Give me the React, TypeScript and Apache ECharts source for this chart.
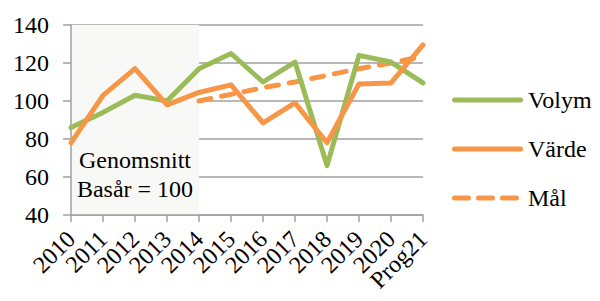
import React, { useEffect, useRef } from "react";
import * as echarts from "echarts";

const categories = ["2010", "2011", "2012", "2013", "2014", "2015", "2016", "2017", "2018", "2019", "2020", "Prog21"];
const volym = [86, 94, 103, 100, 117, 125, 110, 120.5, 66, 124, 120.5, 109.5];
const varde = [78, 103, 117, 98, 104.5, 108.5, 88.5, 99, 78, 109, 109.5, 129.5];
const mal = [null, null, null, null, 100, 103.5, 107, 110, 113.5, 117, 120, 123.5];
const yTicks = { min: 40, max: 140, interval: 20 };
const shadeFrom = "2010";
const shadeTo = "2014";
const shadeLabel = ["Genomsnitt", "Basår = 100"];

const FONT = "Liberation Serif";
const GREEN = "#9bbb59";
const ORANGE = "#f79646";
const GRID = "#a0a0a0";

const solidIcon = "path://M2.5,0H68.5A2.5,2.5 0 0 1 68.5,5H2.5A2.5,2.5 0 0 1 2.5,0Z";
const dashIcon =
  "path://M2.5,0H16.5A2.5,2.5 0 0 1 16.5,5H2.5A2.5,2.5 0 0 1 2.5,0Z" +
  "M26.5,0H40.5A2.5,2.5 0 0 1 40.5,5H26.5A2.5,2.5 0 0 1 26.5,0Z" +
  "M50.5,0H64.5A2.5,2.5 0 0 1 64.5,5H50.5A2.5,2.5 0 0 1 50.5,0Z" +
  "M71,0L71,0.01Z";

const txt = { fontFamily: FONT, fontSize: 24, color: "#000" };

export default function App() {
  const ref = useRef<HTMLDivElement>(null);
  useEffect(() => {
    if (!ref.current) return;
    const chart = echarts.init(ref.current, undefined, { renderer: "svg" });
    chart.setOption({
      animation: false,
      textStyle: { fontFamily: FONT },
      grid: { left: 71, right: 177, top: 25, bottom: 86, containLabel: false },
      legend: {
        orient: "vertical",
        left: 447,
        top: 83,
        itemWidth: 71,
        itemHeight: 5,
        itemGap: 25,
        textStyle: { ...txt, lineHeight: 24 },
        data: [
          { name: "Volym", icon: solidIcon, itemStyle: { color: GREEN } },
          { name: "Värde", icon: solidIcon, itemStyle: { color: ORANGE } },
          { name: "Mål", icon: dashIcon, itemStyle: { color: ORANGE } },
        ],
      },
      xAxis: {
        type: "category",
        data: categories,
        boundaryGap: false,
        axisLine: { lineStyle: { color: GRID, width: 1.5 } },
        axisTick: { show: true, length: 7, lineStyle: { color: GRID, width: 1.5 } },
        axisLabel: { ...txt, interval: 0, rotate: 45, margin: 20 },
        splitLine: { show: false },
      },
      yAxis: {
        type: "value",
        min: yTicks.min,
        max: yTicks.max,
        interval: yTicks.interval,
        axisLine: { show: true, lineStyle: { color: GRID, width: 1.5 } },
        axisTick: { show: true, length: 8, lineStyle: { color: GRID, width: 1.5 } },
        axisLabel: { ...txt, margin: 22, rotate: 0.01, align: "right", verticalAlign: "middle" },
        splitLine: { lineStyle: { color: GRID, width: 1.5 } },
      },
      series: [
        {
          name: "Volym",
          type: "line",
          data: volym,
          symbol: "none",
          lineStyle: { color: GREEN, width: 5, cap: "round", join: "round" },
          itemStyle: { color: GREEN },
          z: 3,
          markArea: {
            silent: true,
            itemStyle: { color: "#f8f8f6" },
            label: {
              ...txt,
              show: true,
              position: "insideBottom",
              distance: 12,
              rotate: 0.01,
              formatter: shadeLabel.join("\n"),
              lineHeight: 29,
            },
            data: [[{ xAxis: shadeFrom }, { xAxis: shadeTo }]],
            z: 0,
          },
        },
        {
          name: "Värde",
          type: "line",
          data: varde,
          symbol: "none",
          lineStyle: { color: ORANGE, width: 5, cap: "round", join: "round" },
          itemStyle: { color: ORANGE },
          z: 4,
        },
        {
          name: "Mål",
          type: "line",
          data: mal,
          symbol: "none",
          lineStyle: { color: ORANGE, width: 5, type: [12, 11], cap: "round" },
          itemStyle: { color: ORANGE },
          z: 2,
        },
      ],
    });
    return () => chart.dispose();
  }, []);
  return <div ref={ref} style={{ width: 600, height: 301, position: "absolute", left: 0, top: 0 }} />;
}
